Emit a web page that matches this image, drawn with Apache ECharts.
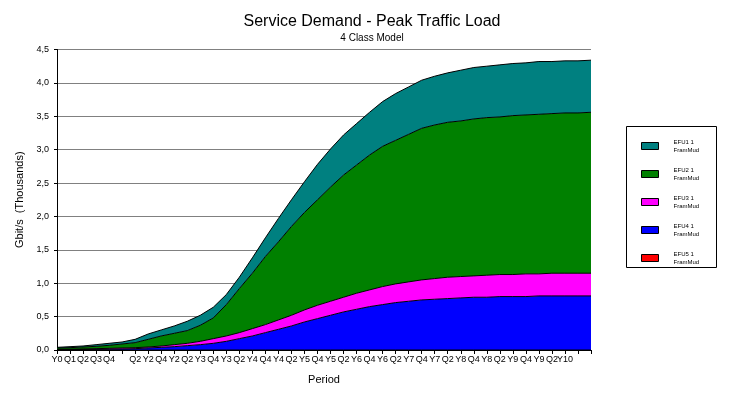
<!DOCTYPE html>
<html>
<head>
<meta charset="utf-8">
<script src="https://cdn.jsdelivr.net/npm/echarts@6/dist/echarts.min.js"></script>
<style>html,body{margin:0;padding:0;background:#fff;}#c{width:744px;height:394px;}</style>
</head>
<body>
<div id="c"></div>
<script>
const categories = ['Y0','Q1','Q2','Q3','Q4','','Q2','Y2','Q4','Y2','Q2','Y3','Q4','Y3','Q2','Y4','Q4','Y4','Q2','Y5','Q4','Y5','Q2','Y6','Q4','Y6','Q2','Y7','Q4','Y7','Q2','Y8','Q4','Y8','Q2','Y9','Q4','Y9','Q2','Y10','',''];
const yTicks = [0,0.5,1,1.5,2,2.5,3,3.5,4,4.5];
const seriesNames = ['EFU1 1','EFU2 1','EFU3 1','EFU4 1','EFU5 1'];
const efu1 = [0.01,0.015,0.015,0.025,0.03,0.03,0.05,0.08,0.09,0.11,0.14,0.15,0.16,0.15,0.17,0.23,0.28,0.35,0.4,0.46,0.53,0.57,0.6,0.62,0.64,0.67,0.7,0.71,0.72,0.73,0.74,0.76,0.77,0.77,0.78,0.78,0.78,0.79,0.78,0.78,0.78,0.78];
const efu2 = [0.02,0.023,0.03,0.035,0.045,0.06,0.075,0.115,0.15,0.17,0.19,0.24,0.31,0.47,0.66,0.83,1.02,1.17,1.33,1.46,1.58,1.71,1.83,1.92,2.02,2.1,2.15,2.21,2.27,2.3,2.32,2.33,2.35,2.36,2.36,2.38,2.38,2.39,2.39,2.4,2.4,2.41];
const efu3 = [0.005,0.006,0.007,0.01,0.013,0.015,0.015,0.015,0.02,0.03,0.035,0.05,0.07,0.08,0.09,0.11,0.12,0.14,0.16,0.18,0.2,0.21,0.22,0.24,0.25,0.27,0.28,0.29,0.3,0.31,0.32,0.32,0.32,0.33,0.33,0.33,0.34,0.33,0.34,0.34,0.34,0.34];
const efu4 = [0.005,0.006,0.008,0.01,0.012,0.015,0.02,0.03,0.04,0.05,0.065,0.08,0.1,0.13,0.17,0.21,0.26,0.31,0.36,0.42,0.47,0.52,0.57,0.61,0.65,0.68,0.71,0.73,0.75,0.76,0.77,0.78,0.79,0.79,0.8,0.8,0.8,0.81,0.81,0.81,0.81,0.81];
const efu5 = [0,0,0,0,0,0,0,0,0,0,0,0,0,0,0,0,0,0,0,0,0,0,0,0,0,0,0,0,0,0,0,0,0,0,0,0,0,0,0,0,0,0];
const colors = ['#008080','#008000','#FF00FF','#0000FF','#FF0000'];

const FONT = 'Liberation Sans, Arial, sans-serif';
const valuesByName = [efu1, efu2, efu3, efu4, efu5];
// stack from bottom: EFU5, EFU4, EFU3, EFU2, EFU1
const order = [4,3,2,1,0];
const series = order.map(i => ({
  name: seriesNames[i],
  type: 'line',
  stack: 'total',
  data: valuesByName[i],
  showSymbol: false,
  symbol: 'none',
  smooth: false,
  itemStyle: { color: colors[i] },
  lineStyle: { color: '#000', width: 1 },
  areaStyle: { color: colors[i], opacity: 1 },
  emphasis: { disabled: true },
  z: 2
}));

const chart = echarts.init(document.getElementById('c'), null, { renderer: 'canvas' });
chart.setOption({
  animation: false,
  backgroundColor: '#fff',
  textStyle: { fontFamily: FONT },
  title: {
    text: 'Service Demand - Peak Traffic Load',
    subtext: '4 Class Model',
    left: 'center',
    top: 9,
    itemGap: 3,
    textStyle: { fontSize: 16, fontWeight: 'normal', color: '#000', fontFamily: FONT },
    subtextStyle: { fontSize: 10, color: '#000', fontFamily: FONT }
  },
  legend: {
    orient: 'vertical',
    left: 636,
    top: 133,
    itemWidth: 17,
    itemHeight: 7,
    itemGap: 12,
    icon: 'rect',
    data: seriesNames,
    selectedMode: false,
    itemStyle: { borderColor: '#000', borderWidth: 1 },
    formatter: name => name + '\nFramMud',
    textStyle: { fontSize: 6, lineHeight: 8, color: '#000', fontFamily: FONT, padding: [0,0,0,10] }
  },
  graphic: [{
    type: 'rect',
    shape: { x: 626.5, y: 126.5, width: 90, height: 141 },
    style: { fill: 'none', stroke: '#000', lineWidth: 1 },
    z: 0
  }],
  grid: { left: 57, right: 153, top: 49.5, bottom: 44 },
  xAxis: {
    type: 'category',
    data: categories,
    boundaryGap: false,
    name: 'Period',
    nameLocation: 'middle',
    nameGap: 24,
    nameTextStyle: { fontSize: 11, color: '#000', fontFamily: FONT },
    axisLine: { lineStyle: { color: '#000', width: 1 } },
    axisTick: { show: true, interval: 0, length: 4, lineStyle: { color: '#000' } },
    axisLabel: { interval: 0, fontSize: 9, color: '#000', margin: 5, fontFamily: FONT },
    splitLine: { show: false }
  },
  yAxis: {
    type: 'value',
    min: 0,
    max: 4.5,
    interval: 0.5,
    name: 'Gbit/s  (Thousands)',
    nameLocation: 'middle',
    nameGap: 28,
    nameTextStyle: { fontSize: 11, color: '#000', fontFamily: FONT },
    axisLine: { show: true, lineStyle: { color: '#000', width: 1 } },
    axisTick: { show: true, length: 3, lineStyle: { color: '#000' } },
    axisLabel: { fontSize: 9, color: '#000', margin: 8, fontFamily: FONT,
      formatter: v => v.toFixed(1).replace('.', ',') },
    splitLine: { show: true, lineStyle: { color: '#808080', width: 1 } }
  },
  series: series
});
</script>
</body>
</html>
